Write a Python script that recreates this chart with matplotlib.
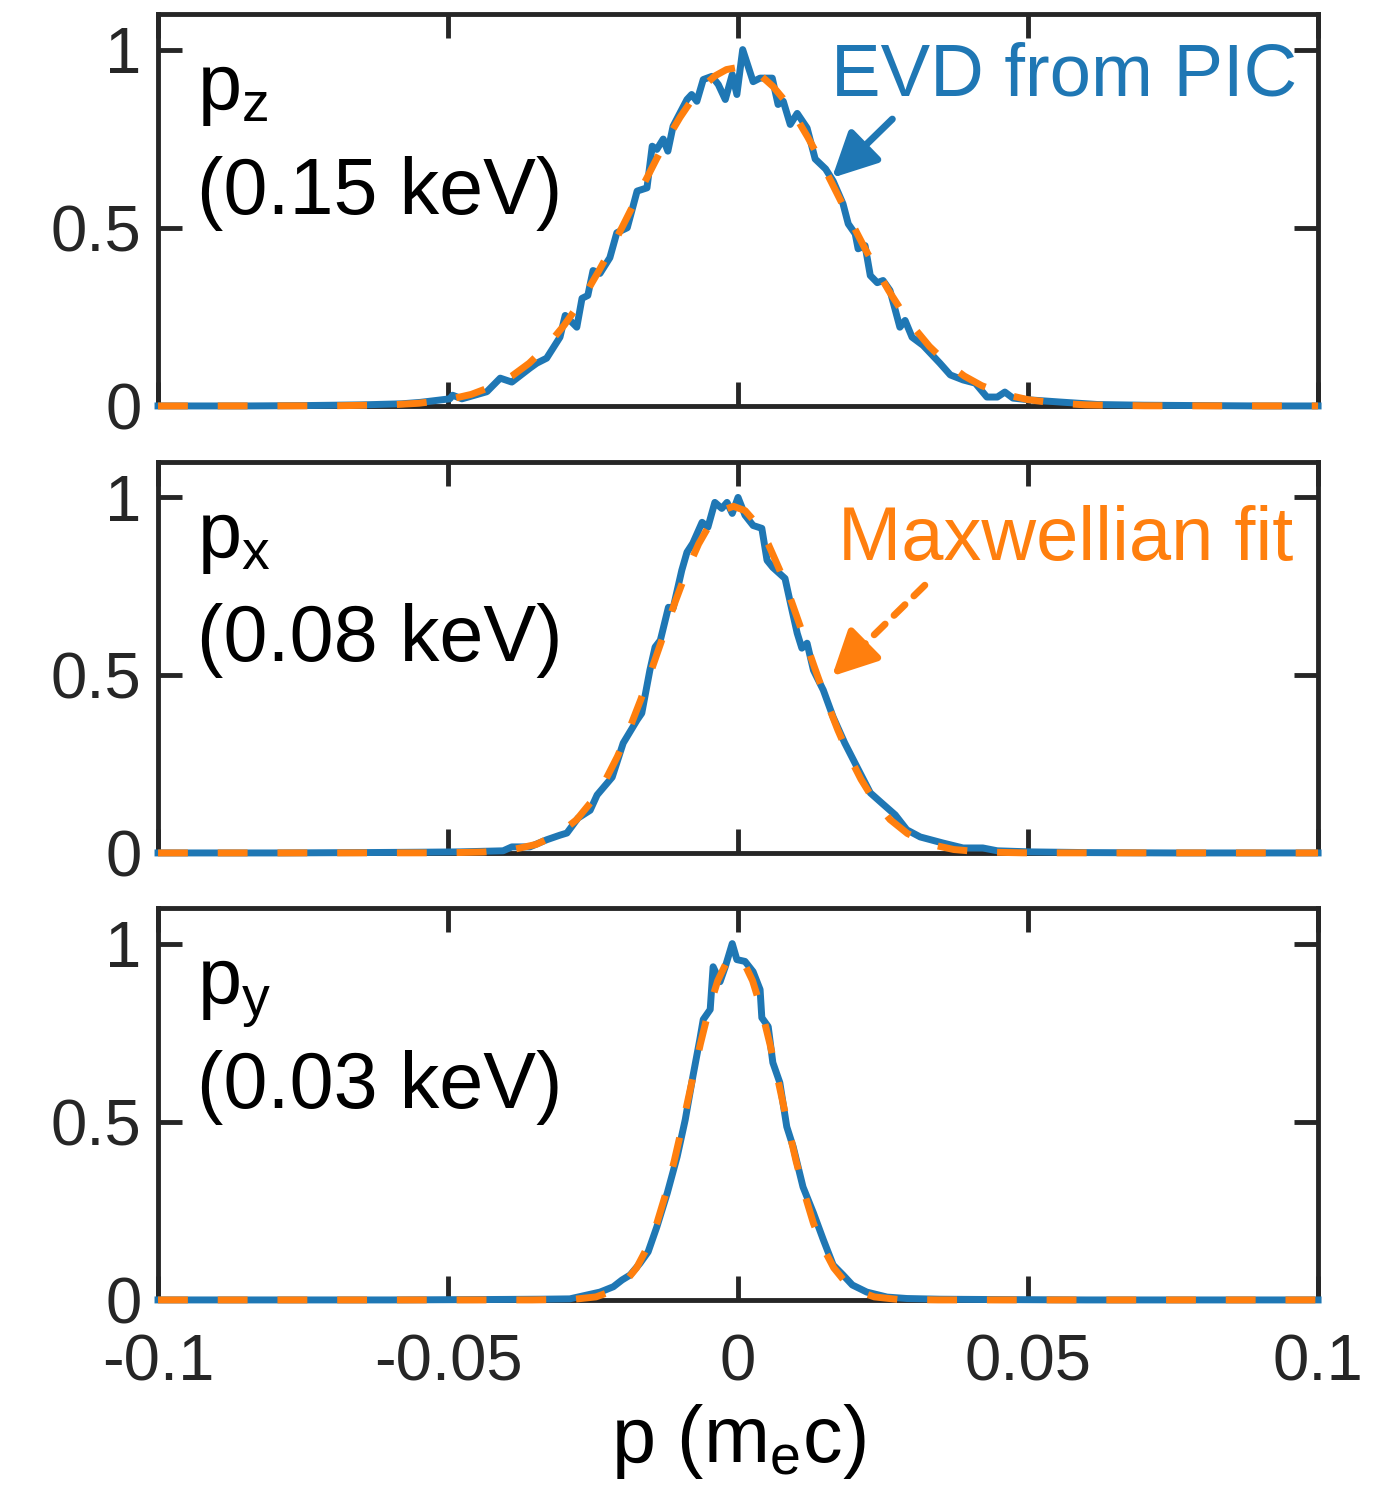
import matplotlib.pyplot as plt

plt.rcParams["font.family"] = ["Liberation Sans", "DejaVu Sans"]
plt.rcParams["mathtext.default"] = "regular"

BLUE = "#1f77b4"
ORANGE = "#ff7f0e"
AXIS_COLOR = "#262626"

x_ticks = [-0.1, -0.05, 0, 0.05, 0.1]
x_tick_labels = ["-0.1", "-0.05", "0", "0.05", "0.1"]
y_ticks = [0, 0.5, 1]
y_tick_labels = ["0", "0.5", "1"]

panel_names = [r"$\mathregular{p_z}$", r"$\mathregular{p_x}$", r"$\mathregular{p_y}$"]
panel_energies = ["(0.15 keV)", "(0.08 keV)", "(0.03 keV)"]

# EVD from PIC, p_z
pz_x = [-0.1, -0.085, -0.075, -0.065, -0.058, -0.0548, -0.0497, -0.0492, -0.0476,
        -0.0433, -0.041, -0.039, -0.0359, -0.0347, -0.033, -0.0307, -0.0298, -0.0278,
        -0.0269, -0.0259, -0.025, -0.0238, -0.0221, -0.0209, -0.0191, -0.0174, -0.0157,
        -0.0148, -0.014, -0.0129, -0.0121, -0.0112, -0.0088, -0.008, -0.0071, -0.006,
        -0.0045, -0.0034, -0.0022, -0.001, -0.0002, 0.0008, 0.0026, 0.0038, 0.0059,
        0.0069, 0.0078, 0.009, 0.0102, 0.0119, 0.0133, 0.0151, 0.0164, 0.0181, 0.019,
        0.0202, 0.0207, 0.0219, 0.0228, 0.024, 0.025, 0.0262, 0.0279, 0.0288, 0.03,
        0.0319, 0.0348, 0.0366, 0.0388, 0.0409, 0.0429, 0.0447, 0.046, 0.0474, 0.0503,
        0.0555, 0.062, 0.07, 0.08, 0.09, 0.1]
pz_evd = [0.0, 0.0, 0.001, 0.003, 0.006, 0.01, 0.02, 0.03, 0.02,
          0.04, 0.078, 0.067, 0.106, 0.12, 0.134, 0.193, 0.254, 0.221,
          0.302, 0.31, 0.38, 0.372, 0.416, 0.486, 0.5, 0.603, 0.612,
          0.729, 0.72, 0.749, 0.715, 0.785, 0.86, 0.874, 0.855, 0.916,
          0.925, 0.902, 0.86, 0.93, 0.874, 1.0, 0.91, 0.92, 0.92,
          0.846, 0.855, 0.79, 0.821, 0.78, 0.693, 0.665, 0.631, 0.567, 0.511,
          0.483, 0.441, 0.45, 0.366, 0.346, 0.352, 0.324, 0.221, 0.24, 0.193,
          0.17, 0.12, 0.087, 0.073, 0.064, 0.025, 0.025, 0.039, 0.022, 0.017,
          0.011, 0.004, 0.002, 0.001, 0.0, 0.0]

# Maxwellian fit, p_z
pz_fit_x = [-0.1, -0.07, -0.06, -0.055, -0.05, -0.046, -0.042, -0.039, -0.036, -0.033,
            -0.03, -0.028, -0.026, -0.024, -0.022, -0.02, -0.018, -0.016, -0.014, -0.012,
            -0.01, -0.008, -0.006, -0.004, -0.002, 0.0, 0.002, 0.004, 0.006, 0.008,
            0.01, 0.012, 0.014, 0.016, 0.018, 0.02, 0.022, 0.024, 0.026, 0.028,
            0.03, 0.033, 0.036, 0.039, 0.042, 0.046, 0.05, 0.055, 0.06, 0.07, 0.1]
pz_fit = [0.0, 0.0004, 0.003, 0.0076, 0.0176, 0.0324, 0.057, 0.084, 0.12, 0.167,
          0.226, 0.272, 0.323, 0.379, 0.438, 0.501, 0.566, 0.631, 0.695, 0.755,
          0.81, 0.858, 0.897, 0.926, 0.944, 0.95, 0.944, 0.926, 0.897, 0.858,
          0.81, 0.755, 0.695, 0.631, 0.566, 0.501, 0.438, 0.379, 0.323, 0.272,
          0.226, 0.167, 0.12, 0.084, 0.057, 0.0324, 0.0176, 0.0076, 0.003, 0.0004, 0.0]

# EVD from PIC, p_x
px_x = [-0.1, -0.08, -0.065, -0.055, -0.0479, -0.0405, -0.039, -0.0359, -0.033, -0.0307,
        -0.0295, -0.0276, -0.0255, -0.0243, -0.0217, -0.0198, -0.0174, -0.0166, -0.0152,
        -0.0143, -0.0134, -0.012, -0.0112, -0.0097, -0.0088, -0.0078, -0.0062, -0.0052,
        -0.004, -0.0028, -0.0019, -0.001, 0.0, 0.0012, 0.0026, 0.0041, 0.005, 0.006,
        0.0081, 0.0093, 0.0102, 0.011, 0.0119, 0.013, 0.0147, 0.0164, 0.0184, 0.0205,
        0.0228, 0.0248, 0.0271, 0.0291, 0.0314, 0.0353, 0.0388, 0.0422, 0.0447, 0.0503,
        0.06, 0.075, 0.1]
px_evd = [0.0, 0.0, 0.001, 0.002, 0.003, 0.006, 0.017, 0.017, 0.037, 0.05,
          0.056, 0.098, 0.12, 0.163, 0.213, 0.309, 0.374, 0.393, 0.514,
          0.579, 0.598, 0.691, 0.688, 0.795, 0.846, 0.871, 0.93, 0.916,
          0.986, 0.969, 0.986, 0.955, 1.0, 0.95, 0.921, 0.913, 0.823, 0.803,
          0.772, 0.683, 0.618, 0.576, 0.59, 0.514, 0.458, 0.382, 0.309, 0.242,
          0.169, 0.14, 0.107, 0.065, 0.045, 0.028, 0.014, 0.014, 0.006, 0.003,
          0.001, 0.0, 0.0]

# Maxwellian fit, p_x
px_fit_x = [-0.1, -0.0508, -0.0438, -0.0388, -0.0348, -0.0308, -0.0278, -0.0248, -0.0228,
            -0.0208, -0.0188, -0.0168, -0.0148, -0.0128, -0.0108, -0.0088, -0.0068,
            -0.0048, -0.0028, -0.0008, 0.0012, 0.0032, 0.0052, 0.0072, 0.0092, 0.0112,
            0.0132, 0.0152, 0.0172, 0.0192, 0.0212, 0.0232, 0.0262, 0.0292, 0.0332,
            0.0372, 0.0422, 0.0492, 0.1]
px_fit = [0.0, 0.0003, 0.0026, 0.0096, 0.024, 0.0547, 0.094, 0.154, 0.207,
          0.271, 0.346, 0.43, 0.521, 0.615, 0.708, 0.795, 0.869,
          0.926, 0.963, 0.975, 0.963, 0.926, 0.869, 0.795, 0.708, 0.615,
          0.521, 0.43, 0.346, 0.271, 0.207, 0.154, 0.094, 0.0547, 0.024,
          0.0096, 0.0026, 0.0003, 0.0]

# EVD from PIC, p_y
py_x = [-0.1, -0.06, -0.045, -0.0341, -0.029, -0.026, -0.0238, -0.0215, -0.02, -0.0186,
        -0.0169, -0.0155, -0.014, -0.0122, -0.0105, -0.0091, -0.0078, -0.0066, -0.006,
        -0.0048, -0.0043, -0.0031, -0.0022, -0.001, -0.0002, 0.0012, 0.0026, 0.0038,
        0.0041, 0.0052, 0.006, 0.0072, 0.0084, 0.0095, 0.0112, 0.013, 0.0147, 0.0164,
        0.0181, 0.0197, 0.0222, 0.0257, 0.0291, 0.0348, 0.045, 0.06, 0.1]
py_evd = [0.0, 0.0, 0.001, 0.002, 0.003, 0.014, 0.022, 0.037, 0.056, 0.07,
          0.103, 0.135, 0.205, 0.3, 0.402, 0.506, 0.626, 0.73, 0.787,
          0.815, 0.935, 0.893, 0.935, 1.0, 0.955, 0.95, 0.921, 0.871,
          0.792, 0.767, 0.666, 0.61, 0.486, 0.43, 0.317, 0.244, 0.169, 0.098,
          0.07, 0.042, 0.022, 0.008, 0.004, 0.002, 0.001, 0.0, 0.0]

# Maxwellian fit, p_y
py_fit_x = [-0.1, -0.0355, -0.0285, -0.0245, -0.0215, -0.0195, -0.0175, -0.0155, -0.014,
            -0.0125, -0.011, -0.0095, -0.008, -0.0065, -0.005, -0.0035, -0.002, -0.0005,
            0.001, 0.0025, 0.004, 0.0055, 0.007, 0.0085, 0.01, 0.0115, 0.013, 0.0145,
            0.0165, 0.0185, 0.0205, 0.0235, 0.0275, 0.0345, 0.1]
py_fit = [0.0, 0.0, 0.0015, 0.0085, 0.026, 0.05, 0.09, 0.152, 0.215,
          0.296, 0.39, 0.496, 0.609, 0.718, 0.817, 0.896, 0.947, 0.965,
          0.947, 0.896, 0.817, 0.718, 0.609, 0.496, 0.39, 0.296, 0.215, 0.152,
          0.09, 0.05, 0.026, 0.0085, 0.0015, 0.0, 0.0]

panels = [
    (pz_x, pz_evd, pz_fit_x, pz_fit),
    (px_x, px_evd, px_fit_x, px_fit),
    (py_x, py_evd, py_fit_x, py_fit),
]

LW = 5.0

fig = plt.figure(figsize=(13.74, 14.87), dpi=100)
positions = [
    [0.115, 0.727, 0.8443, 0.2636],
    [0.115, 0.4264, 0.8443, 0.263],
    [0.115, 0.1258, 0.8443, 0.2636],
]

axes = []
for i, (pos, (x, evd, fx, fit)) in enumerate(zip(positions, panels)):
    ax = fig.add_axes(pos)
    ax.plot(x, evd, color=BLUE, lw=LW, zorder=3, clip_on=False)
    ax.plot(fx, fit, color=ORANGE, lw=LW, dashes=(4.3, 4.3), zorder=4, clip_on=False)

    ax.set_xlim(-0.1, 0.1)
    ax.set_ylim(0, 1.1)
    ax.set_xticks(x_ticks)
    ax.set_yticks(y_ticks)
    ax.set_yticklabels(y_tick_labels)
    if i == 2:
        ax.set_xticklabels(x_tick_labels)
    else:
        ax.set_xticklabels([])

    ax.tick_params(direction="in", length=17, width=3.5, top=True, right=True,
                   color=AXIS_COLOR, labelcolor=AXIS_COLOR, labelsize=47)
    ax.tick_params(axis="x", pad=24)
    ax.tick_params(axis="y", pad=12)
    for spine in ax.spines.values():
        spine.set_linewidth(3.5)
        spine.set_color(AXIS_COLOR)

    ax.text(-0.0932, 0.832, panel_names[i], fontsize=57, va="baseline", ha="left")
    ax.text(-0.0932, 0.539, panel_energies[i], fontsize=57, va="baseline", ha="left")
    axes.append(ax)

axes[2].set_xlabel(r"p ($\mathregular{m_e}$c)", fontsize=57, labelpad=6)

head = "-|>,head_length=0.8,head_width=0.4"

# annotations
axes[0].text(0.0964, 0.871, "EVD from PIC", color=BLUE, fontsize=53.5,
             ha="right", va="baseline")
axes[0].annotate("", xy=(0.0162, 0.64), xytext=(0.0266, 0.805),
                 arrowprops=dict(arrowstyle=head, mutation_scale=34, lw=LW,
                                 color=BLUE, shrinkA=0, shrinkB=0), zorder=5)

axes[1].text(0.0957, 0.823, "Maxwellian fit", color=ORANGE, fontsize=54.5,
             ha="right", va="baseline")
# dashed shaft, then a solid head
axes[1].annotate("", xy=(0.0195, 0.55), xytext=(0.0322, 0.753),
                 arrowprops=dict(arrowstyle="-", lw=LW, color=ORANGE,
                                 linestyle=(0, (2.2, 1.8)),
                                 shrinkA=0, shrinkB=0), zorder=5)
axes[1].annotate("", xy=(0.0162, 0.497), xytext=(0.0195, 0.55),
                 arrowprops=dict(arrowstyle=head, mutation_scale=34, lw=LW,
                                 color=ORANGE, shrinkA=0, shrinkB=0), zorder=5)

fig.savefig("out.png", dpi=100)
